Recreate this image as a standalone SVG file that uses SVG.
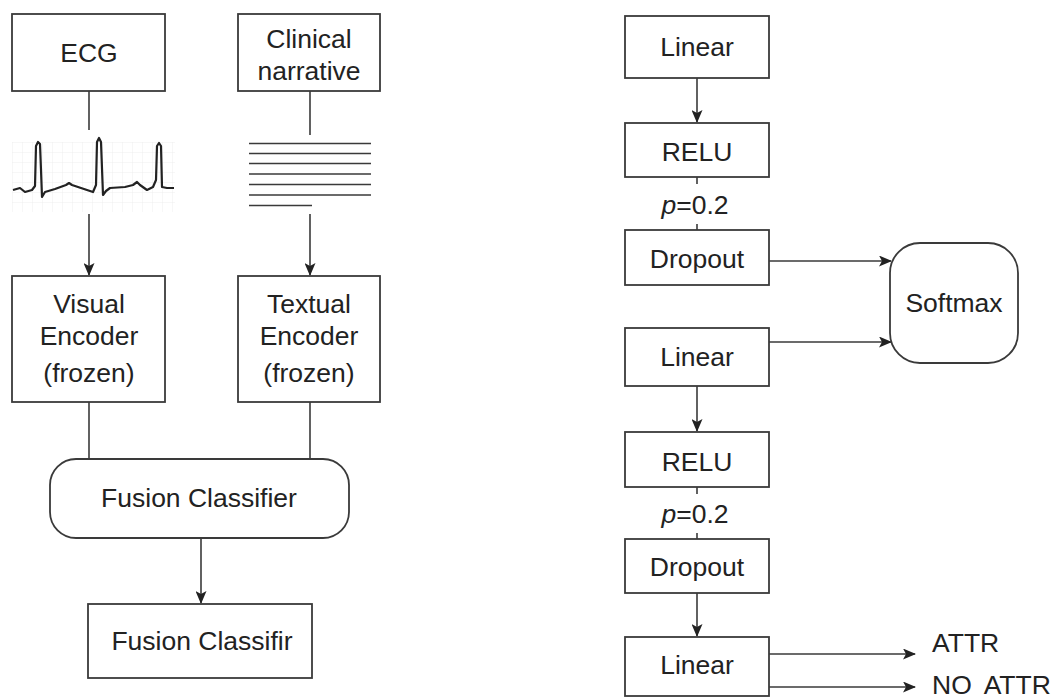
<svg xmlns="http://www.w3.org/2000/svg" width="1057" height="699" viewBox="0 0 1057 699">
<style>
.box{fill:#fff;stroke:#3a3a3a;stroke-width:1.8}
.ln{fill:none;stroke:#3a3a3a;stroke-width:1.6}
.t{font-family:"Liberation Sans",Arial,sans-serif;font-size:26.5px;fill:#222;text-anchor:middle}
.grid{stroke:#ececec;stroke-width:0.8}
</style>
<defs>
<marker id="ah" markerWidth="13" markerHeight="11" refX="12" refY="5.5" orient="auto" markerUnits="userSpaceOnUse">
<path d="M0,0 L13,5.5 L0,11 L3,5.5 Z" fill="#222"/>
</marker>
<pattern id="gp" width="10" height="10" patternUnits="userSpaceOnUse" x="12" y="142">
<path d="M0,0 H10 M0,0 V10" class="grid"/>
</pattern>
</defs>
<rect width="1057" height="699" fill="#fff"/>

<g id="connectors">
<line class="ln" x1="89" y1="91" x2="89" y2="130"/>
<line class="ln" x1="89" y1="214" x2="89" y2="275" marker-end="url(#ah)"/>
<line class="ln" x1="310" y1="91" x2="310" y2="135"/>
<line class="ln" x1="310" y1="214" x2="310" y2="275" marker-end="url(#ah)"/>
<line class="ln" x1="89" y1="402" x2="89" y2="460"/>
<line class="ln" x1="310" y1="402" x2="310" y2="460"/>
<line class="ln" x1="201" y1="538" x2="201" y2="603" marker-end="url(#ah)"/>
<line class="ln" x1="697" y1="78" x2="697" y2="122" marker-end="url(#ah)"/>
<line class="ln" x1="697" y1="177" x2="697" y2="184"/>
<line class="ln" x1="697" y1="224" x2="697" y2="230"/>
<line class="ln" x1="769" y1="261" x2="891" y2="261" marker-end="url(#ah)"/>
<line class="ln" x1="769" y1="342" x2="891" y2="342" marker-end="url(#ah)"/>
<line class="ln" x1="697" y1="386" x2="697" y2="431" marker-end="url(#ah)"/>
<line class="ln" x1="697" y1="487" x2="697" y2="494"/>
<line class="ln" x1="697" y1="533" x2="697" y2="539"/>
<line class="ln" x1="697" y1="593" x2="697" y2="636" marker-end="url(#ah)"/>
<line class="ln" x1="769" y1="654" x2="915" y2="654" marker-end="url(#ah)"/>
<line class="ln" x1="769" y1="687" x2="915" y2="687" marker-end="url(#ah)"/>
</g>

<g id="ecg">
<rect class="box" x="12" y="14" width="153" height="77"/>
<text class="t" x="89" y="62">ECG</text>
</g>

<g id="ecg-wave">
<rect x="12" y="142" width="163" height="70" fill="url(#gp)"/>
<path fill="none" stroke="#222" stroke-width="2.2" stroke-linejoin="round" d="M13,190 L20,188 L25,192 L32,190 L35,186 L36,146 L38,142 L40,144 L41,170 L42,197 L45,192 L55,189 L66,185 L69,183 L72,185 L87,190 L93,192 L96,185 L97,142 L99,138 L101,142 L103,195 L106,191 L110,188 L125,187 L133,185 L137,182 L140,185 L147,190 L153,187 L156,180 L157,146 L159,143 L161,146 L162,187 L167,188 L174,188"/>
</g>

<g id="narrative">
<rect class="box" x="238" y="14" width="142" height="77"/>
<text class="t" x="309" y="48">Clinical</text>
<text class="t" x="309" y="80">narrative</text>
</g>

<g id="narrative-lines">
<line class="ln" stroke-width="2" x1="249" y1="143.5" x2="371" y2="143.5"/>
<line class="ln" stroke-width="2" x1="249" y1="153.5" x2="371" y2="153.5"/>
<line class="ln" stroke-width="2" x1="249" y1="163.5" x2="371" y2="163.5"/>
<line class="ln" stroke-width="2" x1="249" y1="174" x2="371" y2="174"/>
<line class="ln" stroke-width="2" x1="249" y1="184.5" x2="371" y2="184.5"/>
<line class="ln" stroke-width="2" x1="249" y1="195" x2="371" y2="195"/>
<line class="ln" stroke-width="2" x1="249" y1="205.5" x2="312" y2="205.5"/>
</g>

<g id="visual-encoder">
<rect class="box" x="12" y="276" width="153" height="126"/>
<text class="t" x="89" y="313">Visual</text>
<text class="t" x="89" y="345">Encoder</text>
<text class="t" x="89" y="382">(frozen)</text>
</g>

<g id="textual-encoder">
<rect class="box" x="238" y="276" width="142" height="126"/>
<text class="t" x="309" y="313">Textual</text>
<text class="t" x="309" y="345">Encoder</text>
<text class="t" x="309" y="382">(frozen)</text>
</g>

<g id="fusion">
<rect class="box" x="50" y="459" width="299" height="79" rx="26" ry="26"/>
<text class="t" x="199" y="507">Fusion Classifier</text>
</g>

<g id="fusion-out">
<rect class="box" x="88" y="604" width="224" height="74"/>
<text class="t" x="202" y="650">Fusion Classifir</text>
</g>

<g id="linear1">
<rect class="box" x="625" y="16" width="144" height="62"/>
<text class="t" x="697" y="56">Linear</text>
</g>

<g id="relu1">
<rect class="box" x="625" y="123" width="144" height="54"/>
<text class="t" x="697" y="161">RELU</text>
</g>

<g id="p1">
<text class="t" x="695" y="214"><tspan font-style="italic">p</tspan>=0.2</text>
</g>

<g id="dropout1">
<rect class="box" x="625" y="230" width="144" height="55"/>
<text class="t" x="697" y="268">Dropout</text>
</g>

<g id="softmax">
<rect class="box" x="890" y="243" width="128" height="120" rx="30" ry="30"/>
<text class="t" x="954" y="312">Softmax</text>
</g>

<g id="linear2">
<rect class="box" x="625" y="328" width="144" height="58"/>
<text class="t" x="697" y="366">Linear</text>
</g>

<g id="relu2">
<rect class="box" x="625" y="432" width="144" height="55"/>
<text class="t" x="697" y="471">RELU</text>
</g>

<g id="p2">
<text class="t" x="695" y="523"><tspan font-style="italic">p</tspan>=0.2</text>
</g>

<g id="dropout2">
<rect class="box" x="625" y="539" width="144" height="54"/>
<text class="t" x="697" y="576">Dropout</text>
</g>

<g id="linear3">
<rect class="box" x="625" y="637" width="144" height="59"/>
<text class="t" x="697" y="674">Linear</text>
</g>

<g id="outputs">
<text class="t" x="932" y="652" style="text-anchor:start">ATTR</text>
<text class="t" x="932" y="694" style="text-anchor:start;word-spacing:6px">NO ATTR</text>
</g>
</svg>
